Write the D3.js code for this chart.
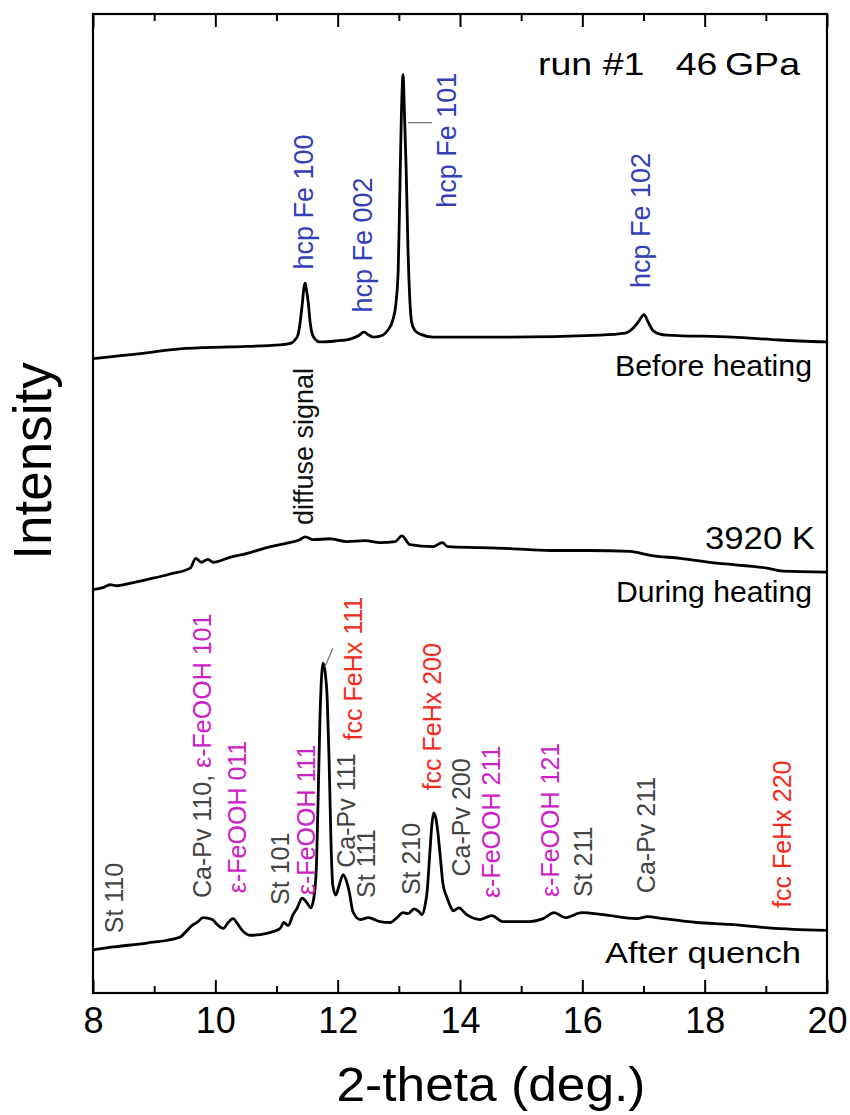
<!DOCTYPE html>
<html><head><meta charset="utf-8">
<script src="https://cdn.jsdelivr.net/npm/d3@7"></script>
<style>
html,body{margin:0;padding:0;background:#fff;}
svg text{font-family:"Liberation Sans",Arial,Helvetica,sans-serif;}
</style></head>
<body><svg id="c" width="850" height="1115"></svg>
<script>
// ---- data ----
const majorTicks = [8, 10, 12, 14, 16, 18, 20];
const minorTicks = [9, 11, 13, 15, 17, 19];
const xTitle = "2-theta (deg.)";
const yTitle = "Intensity";

// Before heating (2-theta, intensity a.u.)
const beforeX = [8.00,8.77,9.42,10.24,11.06,11.25,11.30,11.35,11.38,11.42,11.45,11.47,11.48,11.52,11.55,11.58,11.63,11.71,11.96,12.20,12.33,12.43,12.51,12.58,12.69,12.74,12.82,12.90,12.95,12.99,13.02,13.04,13.07,13.09,13.12,13.15,13.18,13.21,13.26,13.35,13.56,14.65,16.29,16.70,16.81,16.91,17.01,17.07,17.15,17.27,17.38,18.46,19.23,20.00];
const beforeY = [64.8,65.3,65.8,66.0,66.2,66.4,66.7,67.2,68.2,70.3,72.1,72.5,72.2,70.5,68.5,67.4,66.8,66.5,66.6,66.8,67.1,67.5,67.2,67.0,67.1,67.2,67.7,68.7,70.3,73.9,83.0,89.2,93.8,90.2,84.1,75.9,70.8,68.5,67.7,67.3,67.0,67.0,67.2,67.4,67.8,68.5,69.3,68.6,67.7,67.3,67.2,67.0,66.7,66.5];

// During heating
const duringX = [8.00,8.16,8.28,8.39,8.49,8.93,9.26,9.59,9.68,9.77,9.88,9.96,10.24,10.52,10.84,11.14,11.38,11.47,11.60,11.87,12.15,12.45,12.69,12.94,13.05,13.18,13.56,13.71,13.80,14.33,14.82,15.47,16.12,16.78,17.11,17.60,18.20,19.02,19.28,20.00];
const duringY = [41.2,41.4,41.7,41.6,41.7,42.3,42.8,43.4,44.4,44.0,44.3,44.0,44.5,44.9,45.5,45.9,46.3,46.6,46.3,46.4,46.1,46.2,46.0,46.1,46.7,45.8,45.6,46.0,45.6,45.5,45.4,45.2,45.2,45.1,44.7,44.4,43.9,43.4,43.1,43.0];

// After quench
const afterX = [8.00,8.33,8.88,9.42,9.54,9.62,9.70,9.80,9.95,10.03,10.13,10.21,10.29,10.37,10.44,10.57,10.84,11.06,11.12,11.19,11.27,11.34,11.42,11.50,11.56,11.61,11.65,11.68,11.71,11.76,11.79,11.83,11.86,11.89,11.92,11.97,12.02,12.09,12.14,12.19,12.25,12.37,12.50,12.69,12.86,12.97,13.07,13.15,13.25,13.33,13.38,13.43,13.46,13.51,13.54,13.57,13.61,13.64,13.69,13.72,13.79,13.84,13.89,13.98,14.11,14.33,14.52,14.70,15.14,15.36,15.54,15.72,15.99,16.34,16.89,17.07,17.32,17.87,18.41,18.95,19.44,20.00];
const afterY = [4.4,4.7,5.1,5.7,6.4,6.9,7.2,7.7,7.5,7.0,6.6,7.2,7.6,7.0,6.4,5.9,6.1,6.6,7.2,6.9,8.0,8.7,9.7,9.2,8.7,9.7,12.6,19.7,27.9,33.7,33.0,29.9,23.8,15.6,11.0,10.0,10.9,12.1,11.5,10.3,8.3,7.5,7.7,7.3,7.2,7.7,8.2,8.1,8.6,8.3,8.0,9.0,10.2,14.6,17.2,18.4,17.7,16.3,13.1,11.2,9.7,8.9,8.4,8.7,8.0,7.5,7.9,7.3,7.3,7.6,8.2,7.7,8.2,8.0,7.6,7.8,7.6,7.2,7.0,6.7,6.5,6.4];

// peak annotations: text, 2-theta of baseline, intensity at text start, kind
const peakLabels = [
  ["hcp Fe 100", 11.60, 73.9, "hcp"],
  ["hcp Fe 002", 12.56, 69.5, "hcp"],
  ["hcp Fe 101", 13.93, 80.2, "hcp"],
  ["hcp Fe 102", 17.11, 72.0, "hcp"],
  ["diffuse signal", 11.60, 47.8, "plain"],
  ["St 110", 8.49, 6.1, "st"],
  ["ε-FeOOH 011", 10.50, 10.2, "feooh"],
  ["St 101", 11.20, 9.0, "st"],
  ["ε-FeOOH 111", 11.63, 10.0, "feooh"],
  ["fcc FeHx 111", 12.40, 25.8, "fcc"],
  ["Ca-Pv 111", 12.28, 12.8, "st"],
  ["St 111", 12.61, 9.7, "st"],
  ["St 210", 13.35, 10.0, "st"],
  ["fcc FeHx 200", 13.69, 20.7, "fcc"],
  ["Ca-Pv 200", 14.16, 11.9, "st"],
  ["ε-FeOOH 211", 14.65, 9.7, "feooh"],
  ["ε-FeOOH 121", 15.62, 9.8, "feooh"],
  ["St 211", 16.16, 9.8, "st"],
  ["Ca-Pv 211", 17.19, 10.2, "st"],
  ["fcc FeHx 220", 19.41, 8.7, "fcc"]
];
// combined two-colour label
const comboLabel = {parts: [["Ca-Pv 110, ", "st"], ["ε-FeOOH 101", "feooh"]], x: 9.93, y: 9.7};

// leader lines [x1,y1,x2,y2] in data units
const leaders = [[13.15, 88.9, 13.54, 88.9], [11.79, 33.3, 11.92, 35.2]];

// ---- drawing ----
const svg = d3.select("#c");
const L = 93, R = 827, T = 14, B = 993;
const x = d3.scaleLinear().domain([8, 20]).range([L, R]);
const y = d3.scaleLinear().domain([0, 100]).range([B, T]);

const colors = {hcp: "#3340b8", plain: "#111", st: "#444", feooh: "#cc22c4", fcc: "#f22a1c"};

const line = d3.line().x(d => x(d[0])).y(d => y(d[1])).curve(d3.curveMonotoneX);
[[beforeX, beforeY], [duringX, duringY], [afterX, afterY]].forEach(([xs, ys]) => {
  svg.append("path").datum(xs.map((v, i) => [v, ys[i]]))
    .attr("d", line).attr("fill", "none").attr("stroke", "#000")
    .attr("stroke-width", 2.8).attr("stroke-linejoin", "round");
});

// frame
svg.append("rect").attr("x", L).attr("y", T).attr("width", R - L).attr("height", B - T)
  .attr("fill", "none").attr("stroke", "#000").attr("stroke-width", 2.2);

function ax(gen, vals, size, yPos, labels) {
  const a = gen(x).tickValues(vals).tickSizeInner(-size).tickSizeOuter(0).tickPadding(14);
  if (!labels) a.tickFormat("");
  const g = svg.append("g").attr("transform", `translate(0,${yPos})`).call(a);
  g.select(".domain").remove();
  g.selectAll(".tick line").attr("stroke", "#000").attr("stroke-width", 2);
  g.selectAll(".tick text").attr("font-size", 36).attr("fill", "#000")
    .attr("font-family", "Liberation Sans, Arial, sans-serif");
  return g;
}
ax(d3.axisBottom, majorTicks, 13, B, true);
ax(d3.axisBottom, minorTicks, 7, B, false);
ax(d3.axisTop, majorTicks, 13, T, false);
ax(d3.axisTop, minorTicks, 7, T, false);

// axis titles
svg.append("text").attr("x", 491).attr("y", 1101).attr("text-anchor", "middle")
  .attr("font-size", 48).attr("textLength", 309).attr("lengthAdjust", "spacingAndGlyphs").text(xTitle);
svg.append("text").attr("transform", "translate(51,461) rotate(-90)").attr("text-anchor", "middle")
  .attr("font-size", 53).text(yTitle);

// peak labels (rotated)
peakLabels.forEach(([t, px, py, k]) => {
  const fs = (k === "hcp" || k === "plain") ? 27 : 25;
  svg.append("text").attr("transform", `translate(${x(px)},${y(py)}) rotate(-90)`)
    .attr("font-size", fs).attr("fill", colors[k]).text(t);
});
const ct = svg.append("text").attr("transform", `translate(${x(comboLabel.x)},${y(comboLabel.y)}) rotate(-90)`)
  .attr("font-size", 25);
comboLabel.parts.forEach(([t, k]) => ct.append("tspan").attr("fill", colors[k]).text(t));

leaders.forEach(([a, b, c, d]) => {
  svg.append("line").attr("x1", x(a)).attr("y1", y(b)).attr("x2", x(c)).attr("y2", y(d))
    .attr("stroke", "#777").attr("stroke-width", 1.3);
});

// text annotations
function tx(t, xx, yy, fs, len) {
  svg.append("text").attr("x", xx).attr("y", yy).attr("font-size", fs)
    .attr("textLength", len).attr("lengthAdjust", "spacingAndGlyphs").attr("fill", "#000").text(t);
}
tx("run #1\u00a0\u00a0 46\u2009GPa", 538, 75, 32, 262);
tx("Before heating", 615, 376, 29, 197);
tx("3920 K", 705, 549, 31, 110);
tx("During heating", 616, 602, 29, 196);
tx("After quench", 605, 963, 30, 196);
</script></body></html>
